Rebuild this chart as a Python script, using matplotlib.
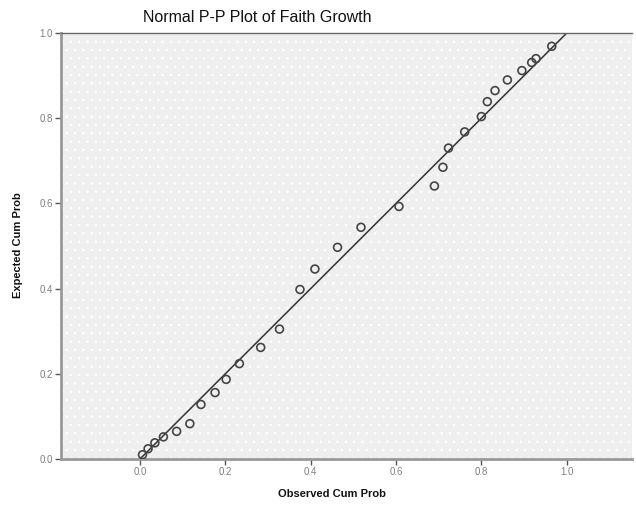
import numpy as np
import matplotlib
matplotlib.use("Agg")
import matplotlib.pyplot as plt
from matplotlib.patches import Rectangle

plt.rcParams["font.family"] = ["Liberation Sans", "DejaVu Sans"]
plt.rcParams["hatch.linewidth"] = 0.5

# observed vs expected cumulative probabilities
observed = [0.006, 0.019, 0.035, 0.055, 0.086, 0.117, 0.143, 0.176, 0.202, 0.233,
            0.283, 0.327, 0.375, 0.410, 0.463, 0.518, 0.607, 0.690, 0.710, 0.723,
            0.761, 0.800, 0.814, 0.832, 0.861, 0.895, 0.918, 0.928, 0.965]
expected = [0.010, 0.024, 0.038, 0.052, 0.065, 0.083, 0.128, 0.156, 0.187, 0.224,
            0.262, 0.305, 0.398, 0.446, 0.497, 0.544, 0.593, 0.641, 0.685, 0.730,
            0.768, 0.804, 0.839, 0.865, 0.890, 0.912, 0.931, 0.940, 0.969]
ref_line = [0.0, 1.0]
ticks = [0.0, 0.2, 0.4, 0.6, 0.8, 1.0]
tick_labels = ["0.0", "0.2", "0.4", "0.6", "0.8", "1.0"]

fig = plt.figure(figsize=(6.36, 5.09), dpi=100)
ax = fig.add_axes([0.0959, 0.0982, 0.8978, 0.8368])
ax.set_facecolor("#efefef")

# dotted background texture
bg = Rectangle((0, 0), 1, 1, transform=ax.transAxes, facecolor="none",
               edgecolor="white", hatch="..", linewidth=0, zorder=0)
ax.add_patch(bg)

ax.plot(ref_line, ref_line, color="#333333", linewidth=1.1, zorder=2)
ax.scatter(observed, expected, s=32, facecolors="none", edgecolors="#444444",
           linewidths=1.2, zorder=3)

ax.set_xlim(-0.185, 1.153)
ax.set_ylim(0.0, 1.0)
ax.set_xticks(ticks)
ax.set_xticklabels(tick_labels)
ax.set_yticks(ticks)
ax.set_yticklabels(tick_labels)
ax.tick_params(axis="both", length=4, width=1, color="#555555",
               labelsize=7, labelcolor="#808080", pad=2)

for side in ["left", "bottom"]:
    ax.spines[side].set_color("#999999")
    ax.spines[side].set_linewidth(2.0)
ax.spines["top"].set_color("#666666")
ax.spines["top"].set_linewidth(1.0)
ax.spines["right"].set_visible(False)

fig.text(0.404, 0.966, "Normal P-P Plot of Faith Growth", ha="center",
         va="center", fontsize=11.5, color="#111111")
fig.text(0.522, 0.030, "Observed Cum Prob", ha="center", va="center",
         fontsize=8, fontweight="bold", color="#111111")
fig.text(0.028, 0.519, "Expected Cum Prob", ha="center", va="center",
         rotation=90, fontsize=8, fontweight="bold", color="#111111")

fig.savefig("out.png", dpi=100)
